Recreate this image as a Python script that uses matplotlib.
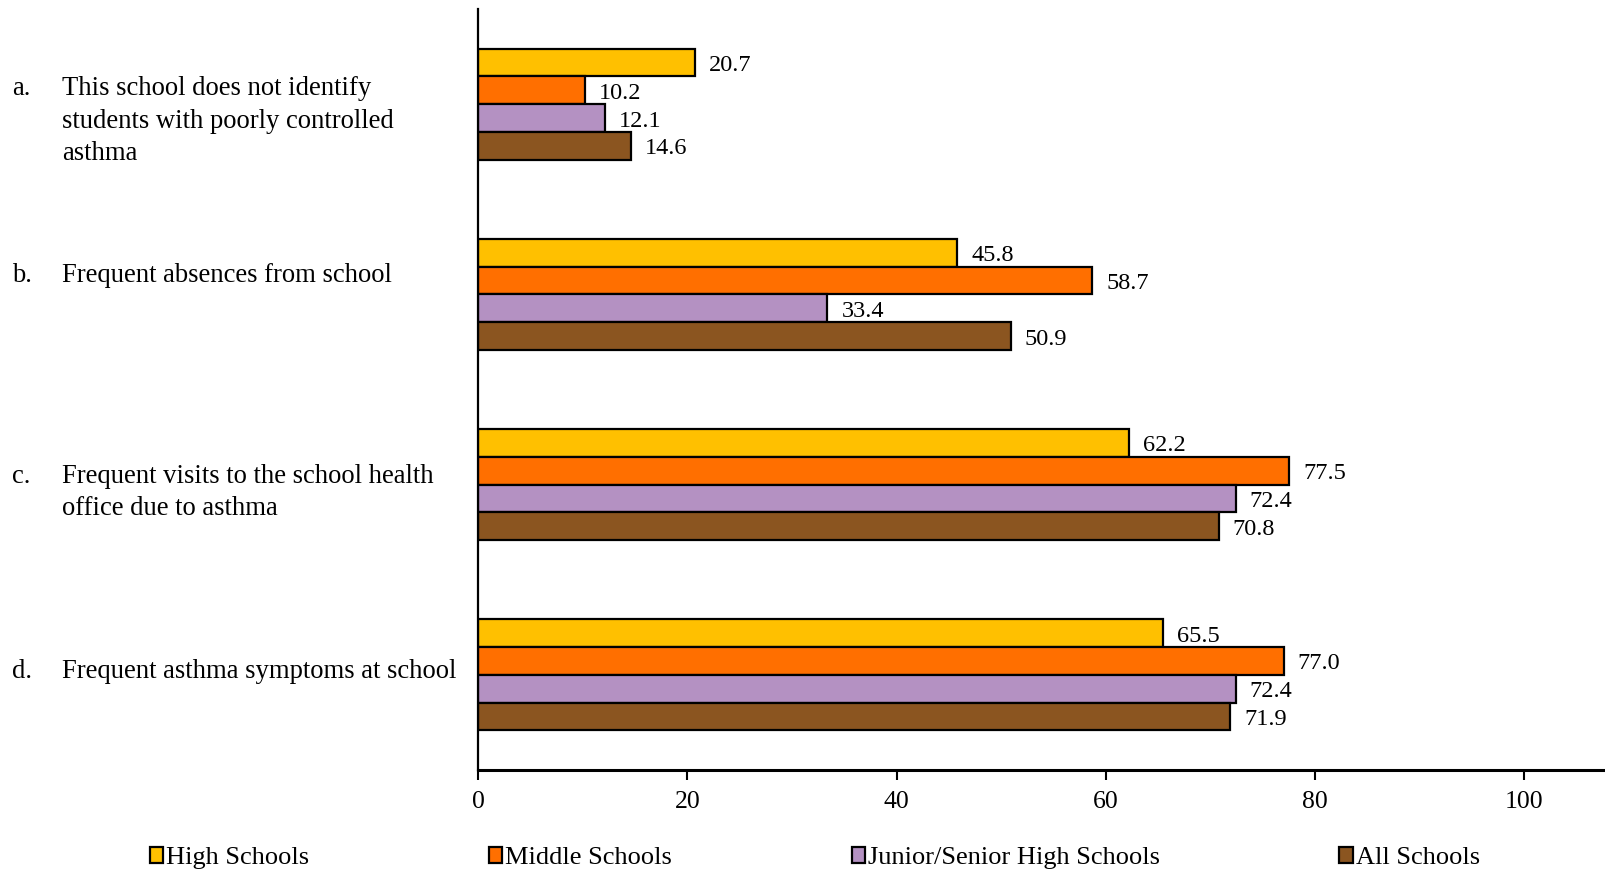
import matplotlib
matplotlib.use("Agg")
import matplotlib.pyplot as plt
import numpy as np

plt.rcParams['font.family'] = ['Liberation Serif', 'DejaVu Serif']

letters = ["a.", "b.", "c.", "d."]
categories = [
    "This school does not identify\nstudents with poorly controlled\nasthma",
    "Frequent absences from school",
    "Frequent visits to the school health\noffice due to asthma",
    "Frequent asthma symptoms at school",
]
series_names = ["High Schools", "Middle Schools", "Junior/Senior High Schools", "All Schools"]
high_schools = [20.7, 45.8, 62.2, 65.5]
middle_schools = [10.2, 58.7, 77.5, 77.0]
junior_senior = [12.1, 33.4, 72.4, 72.4]
all_schools = [14.6, 50.9, 70.8, 71.9]
colors = ["#FFC000", "#FF6F00", "#B491C2", "#8B5520"]
xticks = [0, 20, 40, 60, 80, 100]

# layout: vertical shift of each category label block (in category units)
label_shift = [0.09, -0.10, 0.04, -0.016]

series = [high_schools, middle_schools, junior_senior, all_schools]

fig = plt.figure(figsize=(16.06, 8.71), dpi=100)
ax = fig.add_axes([478/1606, 1 - 770/871, 1 - 478/1606, (770 - 9)/871])

n = len(categories)
y = np.arange(n)
h = 0.146
fs_cat = 19.2
fs_val = 17.5
fs_tick = 18.5
fs_leg = 19

for i, (vals, name, c) in enumerate(zip(series, series_names, colors)):
    pos = y - 1.5 * h + i * h
    bars = ax.barh(pos, vals, height=h, color=c, edgecolor="black", linewidth=1.6, label=name)
    for b, v in zip(bars, vals):
        ax.annotate(f"{v:.1f}", (v, b.get_y() + b.get_height() / 2), xytext=(14, -3),
                    textcoords="offset pixels",
                    va="center", ha="left", fontsize=fs_val)

ax.set_xlim(0, 107.8)
ax.set_ylim(n - 0.5, -0.5)
ax.set_xticks(xticks)
ax.set_xticklabels([str(t) for t in xticks], fontsize=fs_tick)
ax.tick_params(axis="x", direction="out", length=7, width=1.5, pad=8)
ax.set_yticks([])
for s in ["top", "right"]:
    ax.spines[s].set_visible(False)
ax.spines["left"].set_linewidth(1.6)
ax.spines["bottom"].set_linewidth(2.2)

for yi, (let, cat, sh) in enumerate(zip(letters, categories, label_shift)):
    yd = ax.transData.transform((0, yi + sh))[1]
    yf = yd / fig.bbox.height
    nlines = cat.count("\n")
    fig.text(12/1606, yf, let + "\n" * nlines, fontsize=fs_cat, va="center", ha="left", linespacing=1.39)
    fig.text(62/1606, yf, cat, fontsize=fs_cat, va="center", ha="left", linespacing=1.39)

handles, labels = ax.get_legend_handles_labels()
fig.legend(handles, labels, loc="center left", bbox_to_anchor=(150/1606, 1 - 858/871),
           ncol=4, frameon=False, fontsize=fs_leg, handlelength=0.5, handleheight=0.6,
           handletextpad=0.12, columnspacing=6.8, borderaxespad=0, borderpad=0)

fig.savefig("out.png", dpi=100)
